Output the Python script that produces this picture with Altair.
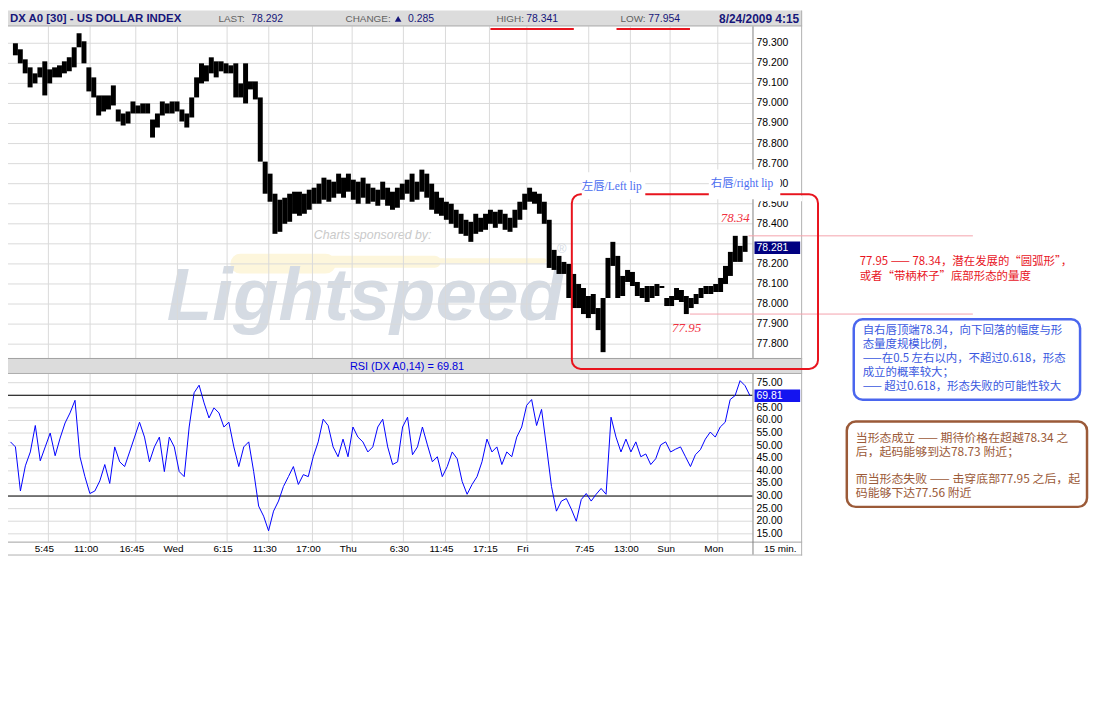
import altair as alt
import pandas as pd

# ---------------- data ----------------
high = [79.30, 79.27, 79.22, 79.18, 79.15, 79.18, 79.21, 79.17, 79.18, 79.19,
        79.21, 79.23, 79.28, 79.35, 79.31, 79.18, 79.13, 79.04, 79.04, 79.04,
        79.09, 78.97, 78.95, 78.96, 79.01, 78.99, 79.00, 79.00, 78.92, 78.95,
        79.01, 79.00, 79.01, 79.01, 78.97, 78.95, 79.03, 79.13, 79.20, 79.19,
        79.23, 79.21, 79.21, 79.20, 79.19, 79.20, 79.10, 79.20, 79.11, 79.11,
        79.03, 78.71, 78.65, 78.55, 78.52, 78.53, 78.55, 78.56, 78.56, 78.55,
        78.57, 78.58, 78.60, 78.63, 78.62, 78.61, 78.65, 78.63, 78.65, 78.62,
        78.61, 78.63, 78.60, 78.58, 78.57, 78.61, 78.58, 78.56, 78.58, 78.60,
        78.62, 78.65, 78.61, 78.67, 78.65, 78.60, 78.56, 78.53, 78.51, 78.50,
        78.47, 78.45, 78.42, 78.41, 78.45, 78.43, 78.45, 78.47, 78.46, 78.47,
        78.45, 78.43, 78.47, 78.51, 78.55, 78.58, 78.56, 78.55, 78.51, 78.42,
        78.27, 78.24, 78.21, 78.20, 78.15, 78.10, 78.08, 78.04, 78.05, 77.98,
        78.03, 78.23, 78.31, 78.24, 78.14, 78.17, 78.16, 78.11, 78.08, 78.09,
        78.09, 78.10, 78.09, 78.03, 78.04, 78.08, 78.07, 78.04, 78.03, 78.05,
        78.08, 78.09, 78.09, 78.10, 78.13, 78.19, 78.26, 78.34, 78.29, 78.34]
low = [79.24, 79.20, 79.15, 79.08, 79.10, 79.13, 79.04, 79.10, 79.13, 79.13,
       79.15, 79.16, 79.18, 79.28, 79.20, 79.06, 79.03, 78.94, 78.96, 78.97,
       78.99, 78.91, 78.89, 78.90, 78.95, 78.95, 78.95, 78.95, 78.83, 78.88,
       78.94, 78.95, 78.95, 78.96, 78.91, 78.88, 78.93, 79.03, 79.10, 79.11,
       79.15, 79.13, 79.16, 79.15, 79.15, 79.03, 79.03, 79.00, 79.07, 79.02,
       78.71, 78.55, 78.51, 78.35, 78.36, 78.40, 78.41, 78.45, 78.44, 78.45,
       78.47, 78.50, 78.50, 78.52, 78.51, 78.53, 78.55, 78.53, 78.56, 78.52,
       78.50, 78.53, 78.50, 78.51, 78.49, 78.52, 78.49, 78.47, 78.48, 78.52,
       78.55, 78.51, 78.52, 78.56, 78.53, 78.47, 78.45, 78.44, 78.42, 78.40,
       78.38, 78.35, 78.34, 78.31, 78.35, 78.36, 78.37, 78.40, 78.38, 78.40,
       78.37, 78.36, 78.38, 78.42, 78.47, 78.51, 78.50, 78.45, 78.40, 78.18,
       78.17, 78.15, 78.15, 78.03, 77.98, 77.98, 77.95, 77.93, 77.95, 77.87,
       77.76, 78.03, 78.19, 78.03, 78.04, 78.11, 78.09, 78.04, 78.03, 78.01,
       78.03, 78.04, 78.08, 77.99, 77.99, 78.02, 78.01, 77.95, 77.98, 78.00,
       78.03, 78.05, 78.05, 78.06, 78.06, 78.10, 78.14, 78.21, 78.21, 78.26]
rsi = [51.5, 49.5, 32.0, 42.0, 47.5, 58.0, 44.0, 49.5, 55.0, 46.0,
       53.0, 59.0, 63.0, 68.0, 45.6, 37.7, 31.0, 32.0, 36.0, 42.5,
       35.0, 49.5, 43.6, 41.7, 47.5, 53.4, 59.3, 53.4, 43.6, 49.5,
       53.4, 39.7, 53.4, 49.5, 39.7, 37.7, 57.4, 71.0, 74.0, 67.0,
       61.0, 65.0, 63.0, 57.4, 59.3, 49.5, 41.7, 49.5, 51.5, 39.7,
       26.0, 22.0, 16.2, 24.0, 28.0, 33.8, 37.7, 41.7, 34.6, 38.5,
       37.7, 45.6, 51.5, 60.5, 58.0, 49.5, 45.6, 52.6, 45.6, 57.4,
       53.4, 51.5, 47.5, 49.5, 57.4, 60.5, 49.5, 42.5, 43.6, 57.4,
       61.3, 46.4, 49.5, 57.4, 50.3, 43.6, 45.6, 37.7, 41.7, 47.5,
       44.8, 35.8, 30.7, 34.6, 37.7, 43.6, 52.6, 47.5, 49.5, 42.5,
       47.5, 45.6, 53.4, 57.4, 66.0, 68.3, 58.0, 64.4, 49.5, 33.8,
       24.0, 28.0, 29.0, 24.8, 20.0, 28.6, 31.0, 28.0, 30.7, 33.0,
       30.7, 61.3, 53.4, 47.5, 52.6, 47.5, 51.5, 45.6, 46.7, 42.5,
       44.8, 50.3, 51.5, 47.5, 48.6, 49.5, 45.6, 41.7, 46.4, 48.4,
       52.6, 55.4, 53.4, 57.4, 59.3, 68.3, 69.9, 75.8, 73.8, 69.81]
tick_pos = [7.64, 16.04, 25.24, 33.64, 43.64, 52.04, 60.84, 68.84,
            79.16, 87.64, 96.5, 104.04, 116.5, 124.9, 132.9, 142.5]
tick_lab = ["5:45", "11:00", "16:45", "Wed", "6:15", "11:30", "17:00", "Thu",
            "6:30", "11:45", "17:15", "Fri", "7:45", "13:00", "Sun", "Mon"]
price_levels = [79.3, 79.2, 79.1, 79.0, 78.9, 78.8, 78.7, 78.6,
                78.5, 78.4, 78.3, 78.2, 78.1, 78.0, 77.9, 77.8]
rsi_levels = [75, 70, 65, 60, 55, 50, 45, 40, 35, 30, 25, 20, 15]
rsi_bands = [70, 30]
last_price = 78.281
last_rsi = 69.81
lip_high = 78.34
lip_low = 77.95

# ---------------- geometry ----------------
W, H = 1090, 695
N = len(high)
XS = alt.Scale(domain=[-0.5, N - 0.5], range=[0, 750], nice=False, zero=False)
PY = alt.Scale(domain=[77.731, 79.384], range=[350, 16], nice=False, zero=False)
RY = alt.Scale(domain=[11.9, 78.5], range=[535, 366], nice=False, zero=False)

NAVY = "#16167a"
GRID = "#dadada"
SANS = "Liberation Sans, Arial, sans-serif"
CJK = "Noto Sans CJK SC"
one = pd.DataFrame({"k": [0]})
layers = []


def box(x, x2, y, y2, **kw):
    layers.append(alt.Chart(one).mark_rect(**kw).encode(
        x=alt.value(x), x2=alt.value(x2), y=alt.value(y), y2=alt.value(y2)))


def txt(x, y, s, **kw):
    kw.setdefault("align", "left")
    kw.setdefault("baseline", "alphabetic")
    kw.setdefault("font", SANS)
    layers.append(alt.Chart(one).mark_text(**kw).encode(
        x=alt.value(x), y=alt.value(y), text=alt.value(s)))


def hseg(x, x2, y, **kw):
    layers.append(alt.Chart(one).mark_rule(**kw).encode(
        x=alt.value(x), x2=alt.value(x2), y=alt.value(y)))


def vseg(x, y, y2, **kw):
    layers.append(alt.Chart(one).mark_rule(**kw).encode(
        x=alt.value(x), y=alt.value(y), y2=alt.value(y2)))


bars = pd.DataFrame({"i": list(range(N)), "lo": low, "hi": high})
rsi_df = pd.DataFrame({"i": list(range(N)), "r": rsi})
ticks = pd.DataFrame({"t": tick_pos, "lab": tick_lab})
plev = pd.DataFrame({"p": price_levels})
plev["lab"] = [f"{v:.3f}" for v in price_levels]
plab = plev[(plev["p"] - last_price).abs() > 0.05]
rlev = pd.DataFrame({"r": rsi_levels})
rlev["lab"] = [f"{v:.2f}" for v in rsi_levels]
rlab = rlev[(rlev["r"] - last_rsi).abs() > 2.5]
bands = pd.DataFrame({"r": rsi_bands})
lips = pd.DataFrame({"p": [lip_high, lip_low], "x0": [746, 687]})
lastp = pd.DataFrame({"a": [last_price - 0.031], "b": [last_price + 0.031],
                      "v": [last_price], "lab": [f"{last_price:.3f}"]})
lastr = pd.DataFrame({"a": [last_rsi - 2.5], "b": [last_rsi + 2.5],
                      "v": [last_rsi], "lab": [f"{last_rsi:.2f}"]})

# ---------------- background bars ----------------
box(0, 800, 0, 15, color="#dcdcdc")
box(0, 800, 351, 365, color="#dcdcdc")

# ---------------- watermark ----------------
hseg(234, 320, 255, color="#fdf6dc", strokeWidth=20, strokeCap="round")
hseg(320, 430, 253, color="#fdf6dc", strokeWidth=12, strokeCap="round")
hseg(430, 540, 252, color="#fdf6dc", strokeWidth=5, strokeCap="round")
txt(160, 312, "Lightspeed", fontSize=75, fontWeight="bold", fontStyle="italic",
    color="#d5dbe3")
txt(553, 244, "®", fontSize=13, color="#d5dbe3")
txt(308, 230, "Charts sponsored by:", fontSize=12.5, fontStyle="italic", color="#cacaca")

# ---------------- grids ----------------
layers.append(alt.Chart(plev).mark_rule(color=GRID).encode(
    y=alt.Y("p:Q", scale=PY, axis=None), x=alt.value(0), x2=alt.value(750)))
layers.append(alt.Chart(rlev).mark_rule(color=GRID).encode(
    y=alt.Y("r:Q", scale=RY, axis=None), x=alt.value(0), x2=alt.value(750)))
layers.append(alt.Chart(ticks).mark_rule(color=GRID).encode(
    x=alt.X("t:Q", scale=XS, axis=None), y=alt.value(16), y2=alt.value(350)))
layers.append(alt.Chart(ticks).mark_rule(color=GRID).encode(
    x=alt.X("t:Q", scale=XS, axis=None), y=alt.value(366), y2=alt.value(535)))
layers.append(alt.Chart(bands).mark_rule(color="#000000").encode(
    y=alt.Y("r:Q", scale=RY, axis=None), x=alt.value(0), x2=alt.value(750)))

# ---------------- frame ----------------
hseg(0, 800, 15.5, color="#a0a0a0")
hseg(0, 800, 350.5, color="#a0a0a0")
hseg(0, 800, 365.5, color="#a0a0a0")
hseg(0, 800, 535.5, color="#a0a0a0")
hseg(0, 800, 548.5, color="#b0b0b0")
vseg(799.5, 0, 549, color="#b0b0b0")
vseg(750.5, 16, 350, color="#808080")
vseg(750.5, 366, 548, color="#808080")

# ---------------- data ----------------
layers.append(alt.Chart(bars).mark_bar(width=5, color="#000000").encode(
    x=alt.X("i:Q", scale=XS, axis=None),
    y=alt.Y("lo:Q", scale=PY, axis=None), y2="hi:Q"))
layers.append(alt.Chart(rsi_df).mark_line(color="#0000ff", strokeWidth=1).encode(
    x=alt.X("i:Q", scale=XS, axis=None), y=alt.Y("r:Q", scale=RY, axis=None)))

# ---------------- axis labels ----------------
layers.append(alt.Chart(plab).mark_text(align="left", baseline="middle", fontSize=10.5,
                                        font=SANS, color="#000000").encode(
    y=alt.Y("p:Q", scale=PY, axis=None), x=alt.value(754), text="lab:N"))
layers.append(alt.Chart(rlab).mark_text(align="left", baseline="middle", fontSize=10.5,
                                        font=SANS, color="#000000").encode(
    y=alt.Y("r:Q", scale=RY, axis=None), x=alt.value(754), text="lab:N"))
layers.append(alt.Chart(ticks).mark_text(align="center", baseline="middle", fontSize=10, dx=-4,
                                         font=SANS, color="#000000").encode(
    x=alt.X("t:Q", scale=XS, axis=None), y=alt.value(542), text="lab:N"))
txt(778, 542, "15 min.", align="center", baseline="middle", fontSize=10)

layers.append(alt.Chart(lastp).mark_rect(color="#000080").encode(
    y=alt.Y("a:Q", scale=PY, axis=None), y2="b:Q", x=alt.value(752), x2=alt.value(798)))
layers.append(alt.Chart(lastp).mark_text(align="left", baseline="middle", fontSize=10.5,
                                         font=SANS, color="white").encode(
    y=alt.Y("v:Q", scale=PY, axis=None), x=alt.value(754), text="lab:N"))
layers.append(alt.Chart(lastr).mark_rect(color="#1414f0").encode(
    y=alt.Y("a:Q", scale=RY, axis=None), y2="b:Q", x=alt.value(752), x2=alt.value(798)))
layers.append(alt.Chart(lastr).mark_text(align="left", baseline="middle", fontSize=10.5,
                                         font=SANS, color="white").encode(
    y=alt.Y("v:Q", scale=RY, axis=None), x=alt.value(754), text="lab:N"))

# ---------------- header texts ----------------
txt(2, 12, "DX A0 [30] - US DOLLAR INDEX", fontSize=11.5, fontWeight="bold", color=NAVY)
txt(212, 12, "LAST:", fontSize=10, color="#606060")
txt(245, 12, "78.292", fontSize=10.5, color=NAVY)
txt(340, 12, "CHANGE:", fontSize=10, color="#606060")
layers.append(alt.Chart(one).mark_point(shape="triangle-up", filled=True, size=45,
                                        color=NAVY, opacity=1).encode(
    x=alt.value(393), y=alt.value(8.5)))
txt(403, 12, "0.285", fontSize=10.5, color=NAVY)
txt(492, 12, "HIGH:", fontSize=10, color="#606060")
txt(522, 12, "78.341", fontSize=10.5, color=NAVY)
txt(617, 12, "LOW:", fontSize=10, color="#606060")
txt(645, 12, "77.954", fontSize=10.5, color=NAVY)
txt(797, 12.5, "8/24/2009 4:15", align="right", fontSize=12, fontWeight="bold", color=NAVY)
txt(402, 362, "RSI (DX A0,14) = 69.81", align="center", fontSize=11, color="#0000dd")

# ---------------- annotations ----------------
RED = "#e8141e"
hseg(486, 570, 18.5, color=RED, strokeWidth=2)
hseg(613, 687, 18.5, color=RED, strokeWidth=2)
layers.append(alt.Chart(lips).mark_rule(color="#f4a2ac").encode(
    y=alt.Y("p:Q", scale=PY, axis=None), x=alt.X("x0:Q", scale=None), x2=alt.value(972)))
box(568, 816, 185, 361, fillOpacity=0, stroke=RED, strokeWidth=2, cornerRadius=9)
box(578, 642, 163, 190, color="white")
box(706, 778, 160, 190, color="white")
box(752, 800, 186.5, 192, color="white")
LIPF = "Liberation Serif, Noto Sans CJK SC"
txt(578, 181, "左唇/Left lip", fontSize=11.5, font=LIPF, color="#4a6cf0")
txt(708, 178, "右唇/right lip", fontSize=11.5, font=LIPF, color="#4a6cf0")
txt(718, 213, "78.34", fontSize=13, font="Liberation Serif", fontStyle="italic", color="#f03040")
txt(669, 324, "77.95", fontSize=13, font="Liberation Serif", fontStyle="italic", color="#f03040")

# ---------------- side notes ----------------
red_lines = ["77.95 —— 78.34，潜在发展的“圆弧形”，", "或者“带柄杯子”底部形态的量度"]
for k, s in enumerate(red_lines):
    txt(858, 256 + 15 * k, s, fontSize=11.5, font=CJK, color=RED)

BLUE = "#4a66ee"
box(852, 1080, 311, 392, fillOpacity=0, stroke=BLUE, strokeWidth=2.5, cornerRadius=9)
blue_lines = ["自右唇顶端78.34，向下回落的幅度与形", "态量度规模比例，",
              "——在0.5 左右以内，不超过0.618，形态", "成立的概率较大；",
              "—— 超过0.618，形态失败的可能性较大"]
for k, s in enumerate(blue_lines):
    txt(861, 326 + 14 * k, s, fontSize=11.5, font=CJK, color="#3a58e0")

BROWN = "#9b5a38"
box(845, 1087, 414, 500, fillOpacity=0, stroke=BROWN, strokeWidth=2.5, cornerRadius=9)
brown_lines = ["当形态成立 —— 期待价格在超越78.34 之", "后，起码能够到达78.73 附近；", "",
               "而当形态失败 —— 击穿底部77.95 之后，起", "码能够下达77.56 附近"]
for k, s in enumerate(brown_lines):
    if s:
        txt(854, 435 + 13.7 * k, s, fontSize=12, font=CJK, color=BROWN)

chart = alt.layer(*layers).resolve_scale(x="independent", y="independent").properties(
    width=W, height=H, padding=0, autosize="none", background="white"
).configure_view(stroke=None)

chart.save("out.html", embed_options={"renderer": "svg", "actions": False})
